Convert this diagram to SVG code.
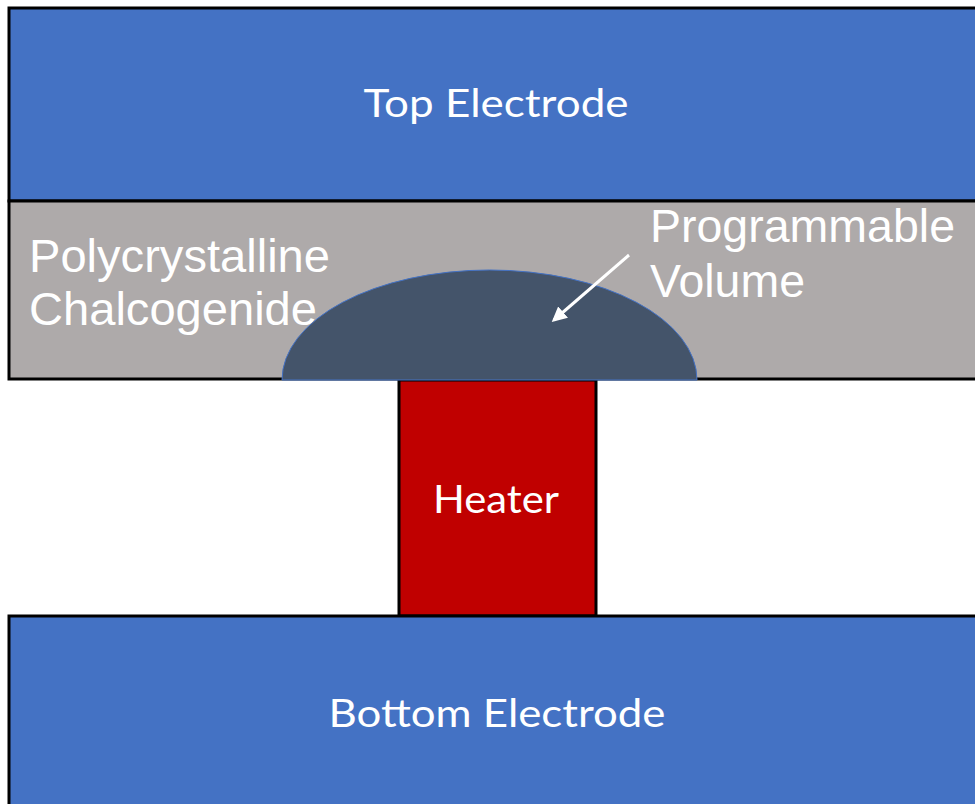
<svg xmlns="http://www.w3.org/2000/svg" width="975" height="804" viewBox="0 0 975 804">
<defs>
<style>
.layer{stroke:#000;stroke-width:3}
.elec{fill:#4472C4}
.calibri{font-family:Lato,"Open Sans",sans-serif;font-size:39px;fill:#fff}
.arial{font-family:"Liberation Sans",Arial,sans-serif;font-size:47px;fill:#fff}
</style>
<marker id="ah" viewBox="0 0 10 10" refX="8" refY="5" markerWidth="5" markerHeight="5" orient="auto">
<path d="M0,0 L10,5 L0,10 z" fill="#fff"/>
</marker>
</defs>
<rect width="975" height="804" fill="#fff"/>
<g id="top-electrode">
<rect class="layer elec" x="9" y="8" width="975" height="193"/>
<text class="calibri" x="496" y="117" text-anchor="middle" textLength="265" lengthAdjust="spacingAndGlyphs">Top Electrode</text>
</g>
<g id="chalcogenide">
<rect class="layer" x="9" y="201" width="975" height="178" fill="#AEAAAA"/>
<text class="arial" x="29" y="272" textLength="301" lengthAdjust="spacingAndGlyphs">Polycrystalline</text>
<text class="arial" x="29" y="325" textLength="288" lengthAdjust="spacingAndGlyphs">Chalcogenide</text>
</g>
<g id="heater">
<rect class="layer" x="399" y="380" width="197" height="236" fill="#C00000"/>
<text class="calibri" x="496" y="513" text-anchor="middle" textLength="126" lengthAdjust="spacingAndGlyphs">Heater</text>
</g>
<g id="programmable-volume">
<path d="M282,380 A207.5,110 0 0 1 697,380 Z" fill="#44546A" stroke="#4472C4" stroke-width="1"/>
<text class="arial" x="650" y="242" textLength="305" lengthAdjust="spacingAndGlyphs">Programmable</text>
<text class="arial" x="650" y="297" textLength="155" lengthAdjust="spacingAndGlyphs">Volume</text>
</g>
<g id="bottom-electrode">
<rect class="layer elec" x="9" y="616" width="975" height="200"/>
<text class="calibri" x="497" y="727" text-anchor="middle" textLength="337" lengthAdjust="spacingAndGlyphs">Bottom Electrode</text>
</g>
<g id="connectors">
<line x1="629" y1="255" x2="554" y2="320" stroke="#fff" stroke-width="3" marker-end="url(#ah)"/>
</g>
</svg>
